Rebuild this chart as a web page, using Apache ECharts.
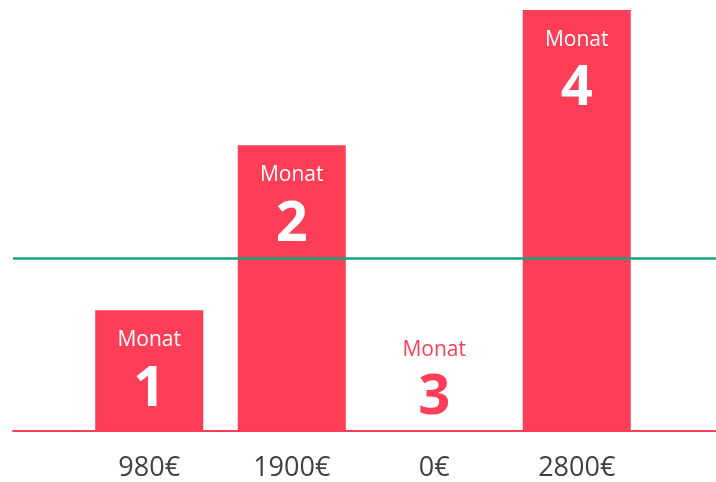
<!DOCTYPE html>
<html>
<head>
<meta charset="utf-8">
<script src="https://cdn.jsdelivr.net/npm/echarts@6/dist/echarts.min.js"></script>
<style>html,body{margin:0;padding:0;background:#fff;}#c{width:716px;height:482px;}</style>
</head>
<body>
<div id="c"></div>
<script>
const amountLabels = ['980€', '1900€', '0€', '2800€'];
const monthNumbers = ['1', '2', '3', '4'];
const barHeights = [800, 1900, 0, 2800];
const thresholdValue = 1150;
const yMax = 2800;

const RED = '#fe3d56';
const GREEN = '#14a583';
const FONT = '"Open Sans", sans-serif';

const chart = echarts.init(document.getElementById('c'), null, {renderer: 'canvas'});

const barData = barHeights.map((v, i) => {
  const zero = v === 0;
  return {
    value: v,
    label: zero ? {
      position: 'top',
      distance: -2,
      formatter: '{m|Monat}\n{n|' + monthNumbers[i] + '}',
      rich: {
        m: {color: RED, fontSize: 21, fontFamily: FONT, lineHeight: 28, align: 'center'},
        n: {color: RED, fontSize: 56, fontWeight: 'bold', fontFamily: FONT, lineHeight: 68, align: 'center'}
      }
    } : {
      position: 'insideTop',
      distance: 16,
      formatter: '{m|Monat}\n{n|' + monthNumbers[i] + '}'
    }
  };
});

chart.setOption({
  animation: false,
  backgroundColor: '#ffffff',
  grid: [
    {left: 78, right: 68, top: 10, bottom: 51.5},
    {left: 13, right: 0, top: 10, bottom: 51.5}
  ],
  xAxis: [
    {
      gridIndex: 0, type: 'category', data: amountLabels,
      axisLine: {show: false}, axisTick: {show: false},
      axisLabel: {margin: 24, fontSize: 27, fontFamily: FONT, color: '#404040'}
    },
    {
      gridIndex: 1, type: 'value', min: 0, max: 1,
      axisLine: {show: true, onZero: false, lineStyle: {color: RED, width: 2}},
      axisTick: {show: false}, axisLabel: {show: false}, splitLine: {show: false}
    }
  ],
  yAxis: [
    {gridIndex: 0, type: 'value', min: 0, max: yMax, show: false},
    {gridIndex: 1, type: 'value', min: 0, max: yMax, show: false}
  ],
  series: [
    {
      type: 'line', xAxisIndex: 1, yAxisIndex: 1, data: [], silent: true,
      markLine: {
        symbol: 'none', silent: true, label: {show: false},
        lineStyle: {color: GREEN, width: 2.5, type: 'solid'},
        data: [{yAxis: thresholdValue}]
      },
      z: 3
    },
    {
      type: 'bar', xAxisIndex: 0, yAxisIndex: 0, data: barData,
      barWidth: 108,
      itemStyle: {color: RED},
      label: {
        show: true,
        rich: {
          m: {color: '#ffffff', fontSize: 21, fontFamily: FONT, lineHeight: 28, align: 'center'},
          n: {color: '#ffffff', fontSize: 56, fontWeight: 'bold', fontFamily: FONT, lineHeight: 71, align: 'center'}
        }
      },
      z: 2
    }
  ]
});
</script>
</body>
</html>
